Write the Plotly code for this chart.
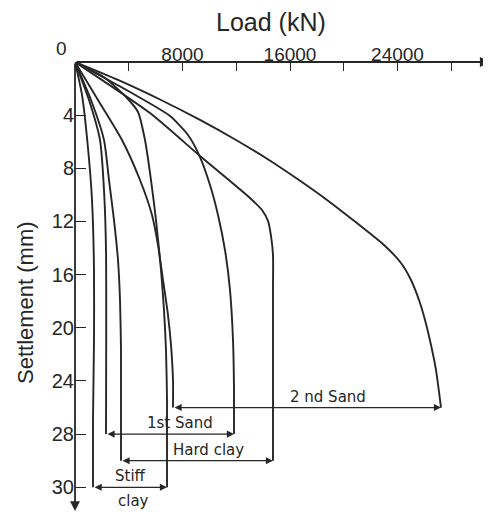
import plotly.graph_objects as go

# ---------------- data (load in kN, settlement in mm) ----------------
# Stiff clay
sc_low_load = [0, 521, 967, 1265, 1414, 1414, 1340, 1340]
sc_low_settle = [0, 2.48, 6.47, 10.38, 15.65, 20.92, 26.94, 32.0]
sc_high_load = [0, 2233, 3870, 4688, 5209, 5656, 6028, 6400, 6623, 6772, 6847, 6847]
sc_high_settle = [0, 1.2, 2.71, 3.76, 5.87, 8.88, 11.89, 15.65, 18.66, 21.67, 25.43, 32.0]

# 1st Sand
s1_low_load = [0, 1042, 1860, 2158, 2307, 2307]
s1_low_settle = [0, 2.86, 5.87, 9.63, 14.15, 28.0]
s1_high_load = [0, 4093, 7070, 8410, 9303, 10047, 10642, 11163, 11535, 11758, 11833, 11833]
s1_high_settle = [0, 2.26, 4.06, 5.49, 7.15, 9.26, 11.51, 14.15, 17.16, 20.92, 24.68, 28.0]

# Hard clay
hc_low_load = [0, 1191, 2158, 2530, 2902, 3200, 3349, 3423, 3423]
hc_low_settle = [0, 2.86, 5.87, 8.88, 11.89, 14.9, 17.91, 21.67, 30.0]
hc_high_load = [0, 5581, 9303, 13023, 13916, 14363, 14586, 14735, 14735, 14735]
hc_high_settle = [0, 3.84, 7.07, 10.23, 11.14, 11.96, 13.09, 14.52, 17.16, 30.0]

# 2nd Sand
s2_low_load = [0, 1711, 3498, 4837, 5730, 6177, 6549, 6921, 7144, 7293, 7293]
s2_low_settle = [0, 2.86, 5.87, 8.88, 11.51, 13.77, 16.4, 19.04, 21.3, 23.93, 26.0]
s2_high_load = [0, 3200, 6400, 9303, 11982, 14437, 16670, 18754, 20689, 22996, 24261,
                25005, 25600, 26047, 26494, 26866, 27238]
s2_high_settle = [0, 1.35, 2.86, 4.36, 5.87, 7.37, 8.88, 10.38, 11.89, 13.77, 15.12,
                  16.4, 17.91, 19.41, 21.29, 23.18, 26.0]

# bracket labels
label_above = ["Stiff", "1st Sand", "Hard clay", "2 nd Sand"]
label_below = ["clay", "", "", ""]
label_x = [4167, 7814, 9898, 18830]
label_below_x = [4390, 0, 0, 0]

# axis ticks
x_tick_vals = [4000, 8000, 12000, 16000, 20000, 24000, 28000]
x_tick_text = ["", "8000", "", "16000", "", "24000", ""]
y_tick_vals = [4, 8, 12, 16, 20, 24, 28, 32]
y_tick_text = ["4", "8", "12", "16", "20", "24", "28", "30"]

INK = "#262626"
X_MAX = 30884
Y_MAX = 33.86

layers = [
    (sc_low_load, sc_low_settle, sc_high_load, sc_high_settle),
    (s1_low_load, s1_low_settle, s1_high_load, s1_high_settle),
    (hc_low_load, hc_low_settle, hc_high_load, hc_high_settle),
    (s2_low_load, s2_low_settle, s2_high_load, s2_high_settle),
]

fig = go.Figure()
for lo_x, lo_y, hi_x, hi_y in layers:
    for xs, ys in ((lo_x, lo_y), (hi_x, hi_y)):
        fig.add_trace(go.Scatter(
            x=xs, y=ys, mode="lines",
            line=dict(color=INK, width=1.9, shape="spline", smoothing=0.6),
            showlegend=False, hoverinfo="skip"))

# dimension brackets
for i, (lo_x, lo_y, hi_x, hi_y) in enumerate(layers):
    level = lo_y[-1]
    fig.add_annotation(
        x=hi_x[-1], y=level, ax=lo_x[-1], ay=level,
        xref="x", yref="y", axref="x", ayref="y",
        text="", showarrow=True, arrowside="end+start",
        arrowhead=2, startarrowhead=2, arrowsize=1.1, startarrowsize=1.1,
        arrowwidth=1.3, arrowcolor=INK)
    fig.add_annotation(
        x=label_x[i], y=level, xref="x", yref="y", text=label_above[i],
        showarrow=False, yanchor="bottom", yshift=0,
        font=dict(family="DejaVu Sans", size=15, color=INK))
    if label_below[i]:
        fig.add_annotation(
            x=label_below_x[i], y=level, xref="x", yref="y", text=label_below[i],
            showarrow=False, yanchor="top", yshift=-3,
            font=dict(family="DejaVu Sans", size=15, color=INK))

# axis lines with arrowheads
fig.add_annotation(x=X_MAX * 0.9995, y=0, ax=0, ay=0, xref="x", yref="y",
                   axref="x", ayref="y", text="", showarrow=True,
                   arrowhead=2, arrowsize=1.1, arrowwidth=1.8, arrowcolor=INK)
fig.add_annotation(x=0, y=Y_MAX * 0.998, ax=0, ay=0, xref="x", yref="y",
                   axref="x", ayref="y", text="", showarrow=True,
                   arrowhead=2, arrowsize=1.1, arrowwidth=1.8, arrowcolor=INK)

# origin label
fig.add_annotation(x=0, y=0, xref="x", yref="y", text="0", showarrow=False,
                   xanchor="right", yanchor="bottom", xshift=-6, yshift=1,
                   font=dict(family="Liberation Sans", size=19, color=INK))

# axis titles
fig.add_annotation(x=(271 - 75) / 415, y=1 + (62 - 22) / 450, xref="paper", yref="paper",
                   xanchor="center", yanchor="middle",
                   text="Load (kN)", showarrow=False,
                   font=dict(family="Liberation Sans", size=25, color=INK))
fig.add_annotation(x=-(75 - 25) / 415, y=1 - (303 - 62) / 450, xref="paper", yref="paper",
                   xanchor="center", yanchor="middle",
                   text="Settlement (mm)", textangle=-90, showarrow=False,
                   font=dict(family="Liberation Sans", size=22, color=INK))

# the page adds an 8 px body margin, so the figure is 8 px smaller and margins shifted
fig.update_layout(
    width=483, height=507,
    margin=dict(l=67, r=1, t=54, b=3, autoexpand=False),
    paper_bgcolor="white", plot_bgcolor="white",
    font=dict(family="Liberation Sans", color=INK),
    xaxis=dict(range=[0, X_MAX], side="top", showgrid=False, zeroline=False,
               showline=False, tickmode="array", tickvals=x_tick_vals,
               ticktext=x_tick_text, ticks="inside", ticklen=9, tickwidth=1.4,
               tickcolor=INK, tickfont=dict(size=19, color=INK),
               ticklabelstandoff=-4),
    yaxis=dict(range=[Y_MAX, 0], showgrid=False, zeroline=False,
               showline=False, tickmode="array", tickvals=y_tick_vals,
               ticktext=y_tick_text, ticks="inside", ticklen=11, tickwidth=1.4,
               tickcolor=INK, tickfont=dict(size=20, color=INK)),
)

fig.write_html("out.html")
